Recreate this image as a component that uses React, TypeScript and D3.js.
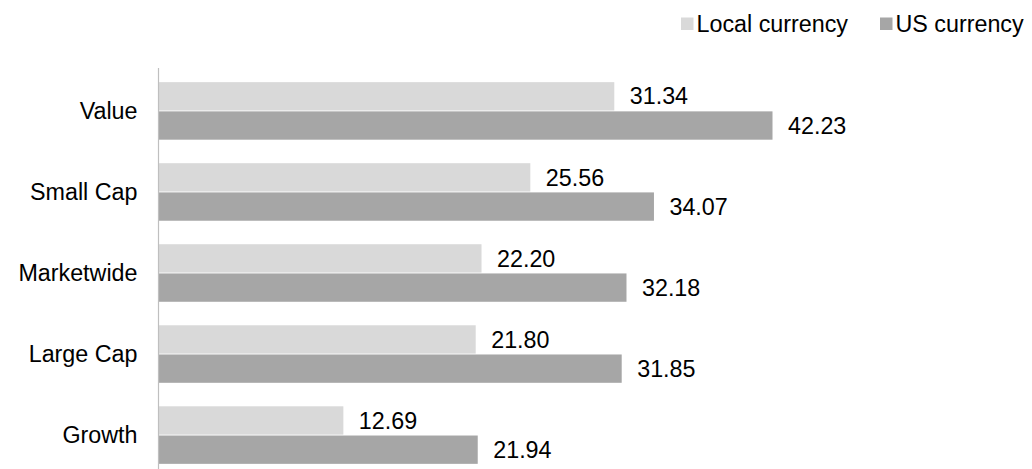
import React from "react";
import * as d3 from "d3";

const categories = ["Value", "Small Cap", "Marketwide", "Large Cap", "Growth"];
const localCurrency = [31.34, 25.56, 22.2, 21.8, 12.69];
const usCurrency = [42.23, 34.07, 32.18, 31.85, 21.94];
const seriesNames = ["Local currency", "US currency"];
const seriesColors = ["#d9d9d9", "#a6a6a6"];

const W = 1032;
const H = 469;

export default function App() {
  const x = d3.scaleLinear().domain([0, 42.23]).range([159, 772.5]);
  const y = d3.scaleBand().domain(categories).range([70, 476]).paddingInner(0.29).paddingOuter(0.15);
  const inner = d3.scaleBand().domain(seriesNames).range([0, y.bandwidth()]).paddingInner(0.03);
  const font = "Arial, 'Liberation Sans', sans-serif";
  const fs = 23.3;
  const series = [localCurrency, usCurrency];
  const legendX = [681, 880];

  return (
    <svg width={W} height={H} style={{ position: "absolute", left: 0, top: 0, background: "#fff" }} fontFamily={font}>
      {categories.map((c, i) => (
        <g key={c}>
          {series.map((s, j) => {
            const yy = (y(c) as number) + (inner(seriesNames[j]) as number);
            return (
              <g key={j}>
                <rect x={x(0)} y={yy} width={x(s[i]) - x(0)} height={inner.bandwidth()} fill={seriesColors[j]} />
                <text x={x(s[i]) + 15.5} y={yy + inner.bandwidth() / 2} dy="0.35em" fontSize={fs} fill="#000">
                  {d3.format(".2f")(s[i])}
                </text>
              </g>
            );
          })}
          <text x={137.5} y={(y(c) as number) + y.bandwidth() / 2} dy="0.35em" textAnchor="end" fontSize={fs} fill="#000">
            {c}
          </text>
        </g>
      ))}
      <line x1={158.5} x2={158.5} y1={68} y2={H} stroke="#bfbfbf" strokeWidth={1.2} />
      {seriesNames.map((n, j) => (
        <g key={n} transform={`translate(${legendX[j]},0)`}>
          <rect x={0} y={17.5} width={12.5} height={12.5} fill={seriesColors[j]} />
          <text x={15.5} y={24} dy="0.35em" fontSize={fs} fill="#000">{n}</text>
        </g>
      ))}
    </svg>
  );
}
